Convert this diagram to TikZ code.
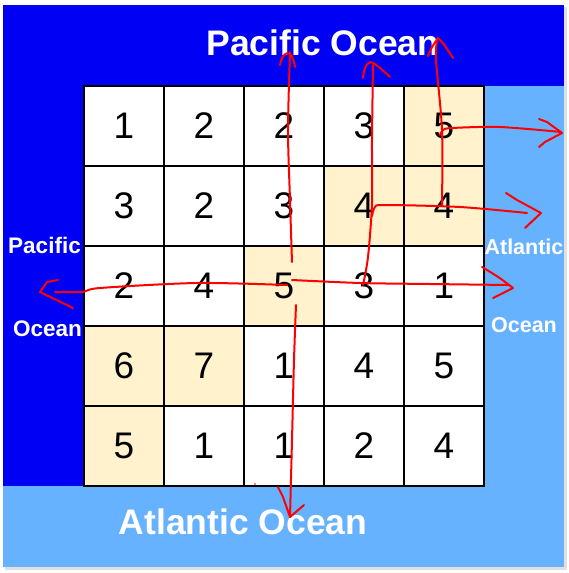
\documentclass[tikz,border=0pt]{standalone}
\usepackage{fontspec}
\setmainfont{Liberation Sans}
\definecolor{pac}{RGB}{0,0,245}
\definecolor{atl}{RGB}{102,178,255}
\definecolor{cream}{RGB}{255,242,204}
\begin{document}
\begin{tikzpicture}[x=1pt,y=-1pt,
  cellbox/.style={draw=black, line width=1.4pt, minimum size=80pt, inner sep=0pt,
    font=\fontsize{37}{37}\selectfont, text=black},
  bigocean/.style={text=white, font=\bfseries\fontsize{35.5}{36}\selectfont, anchor=base},
  smallocean/.style={text=white, font=\bfseries\fontsize{22.5}{23}\selectfont, anchor=base},
  stroke/.style={red, line width=2pt, line cap=round, line join=round}]
\useasboundingbox (0,0) rectangle (569,573);
\fill[white] (0,0) rectangle (569,573);
% shadow and ocean areas
\fill[black!12] (5,7) rectangle (567,570);
\fill[atl] (3,5) rectangle (564,567);
\fill[pac] (3,5) rectangle (564,86);
\fill[pac] (3,86) rectangle (84,486);
% grid background and highlighted cells
\fill[white] (84,86) rectangle (484,486);
\foreach \r/\c in {1/5,2/4,2/5,3/3,4/1,4/2,5/1}
  \fill[cream] (4+80*\c,6+80*\r) rectangle (84+80*\c,86+80*\r);
% cells
\foreach \r/\vals in {1/{1,2,2,3,5},2/{3,2,3,4,4},3/{2,4,5,3,1},4/{6,7,1,4,5},5/{5,1,1,2,4}}
  \foreach \v [count=\c] in \vals
    \node[cellbox] (cell-\r-\c) at (44+80*\c,46+80*\r) {\v};
% labels
\node[bigocean] (pacTop) at (323,55) {Pacific Ocean};
\node[bigocean] (atlBot) at (243,534) {Atlantic Ocean};
\node[smallocean] (pacL1) at (44.5,253) {Pacific};
\node[smallocean] (pacL2) at (47.5,336) {Ocean};
\node[smallocean, font=\bfseries\fontsize{21.5}{22}\selectfont] (atlR1) at (524,254) {Atlantic};
\node[smallocean, font=\bfseries\fontsize{21.5}{22}\selectfont] (atlR2) at (524,332) {Ocean};
% hand-drawn flow arrows
% from 5 (row 3, col 3) up
\draw[stroke] plot[smooth] coordinates {(292,262) (290,200) (288,130) (290,52)};
\draw[stroke] (280,65) .. controls (282,52) and (292,46) .. (295,67);
% from 5 down
\draw[stroke] plot[smooth] coordinates {(296,305) (294,360) (292,440) (290,517)};
\draw[stroke] (278,487) -- (283,497) -- (290,517) -- (304,505);
% from 5 left
\draw[stroke] plot[smooth] coordinates {(287,285) (197,283) (100,288) (83,292) (55,292)};
\draw[stroke] (58,280) -- (47,282) -- (40,292) -- (73,308);
% from 5 right
\draw[stroke] plot[smooth] coordinates {(292,280) (360,283) (430,284) (509,285)};
\draw[stroke] (482,267) -- (487,270) .. controls (500,278) .. (513,288) -- (493,298);
% from 3 (row 3, col 4) up
\draw[stroke] plot[smooth] coordinates {(363,285) (368,257) (372,203) (372,140) (373,65)};
\draw[stroke] (363,78) .. controls (364,64) and (370,60) .. (373,63) .. controls (378,66) .. (390,77);
% row 2 to the right
\draw[stroke] plot[smooth] coordinates {(372,216) (375,207) (385,205) (460,207) (527,213)};
\draw[stroke] (506,193) -- (517,200) -- (541,213) -- (525,228);
% col 5 up
\draw[stroke] plot[smooth] coordinates {(442,205) (442,130) (436,60) (437,42)};
\draw[stroke] (428,56) -- (432,47) -- (438,38) -- (443,43) -- (453,58);
% row 1 to the right
\draw[stroke] plot[smooth] coordinates {(440,135) (443,130) (452,128) (500,127) (561,132)};
\draw[stroke] (539,119) -- (547,122) -- (562,133) -- (545,142) -- (539,147);
\fill[red] (255,484) circle (0.9);
\end{tikzpicture}
\end{document}
